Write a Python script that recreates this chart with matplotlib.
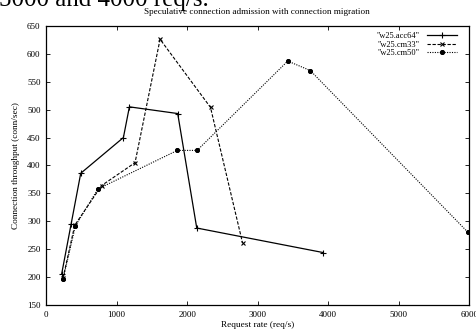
import matplotlib
matplotlib.use("Agg")
import matplotlib.pyplot as plt

plt.rcParams['font.family'] = ['Liberation Serif', 'DejaVu Serif']

# request rate (req/s) and connection throughput (conn/sec)
acc64_x = [220, 355, 490, 1095, 1180, 1865, 2135, 3930]
acc64_y = [206, 296, 386, 450, 505, 493, 288, 244]

cm33_x = [240, 405, 785, 1260, 1615, 2330, 2785]
cm33_y = [199, 293, 364, 405, 626, 504, 261]

cm50_x = [240, 415, 735, 1860, 2140, 3425, 3745, 5975]
cm50_y = [197, 292, 358, 427, 427, 587, 570, 281]

labels = ['"w25.acc64"', '"w25.cm33"', '"w25.cm50"']
xticks = [0, 1000, 2000, 3000, 4000, 5000, 6000]
yticks = [150, 200, 250, 300, 350, 400, 450, 500, 550, 600, 650]

fig = plt.figure(figsize=(4.76, 3.36), dpi=100)
ax = fig.add_axes([0.097, 0.092, 0.889, 0.831])

ax.plot(acc64_x, acc64_y, color='black', linestyle='-', linewidth=0.9,
        marker='+', markersize=4, markeredgewidth=0.8, label=labels[0])
ax.plot(cm33_x, cm33_y, color='black', linestyle=(0, (3, 1.5)), linewidth=0.8,
        marker='x', markersize=3.5, markeredgewidth=0.8, label=labels[1])
ax.plot(cm50_x, cm50_y, color='black', linestyle=(0, (1, 1.2)), linewidth=0.8,
        marker=(8, 2, 0), markersize=3.5, markeredgewidth=0.9, label=labels[2])

ax.set_xlim(0, 6000)
ax.set_ylim(150, 650)
ax.set_xticks(xticks)
ax.set_yticks(yticks)
ax.tick_params(direction='in', top=True, right=True, labelsize=6.5, length=3, width=0.6, pad=4)
for s in ax.spines.values():
    s.set_linewidth(0.9)

ax.set_xlabel('Request rate (req/s)', fontsize=6.7, labelpad=1.5)
ax.set_ylabel('Connection throughput (conn/sec)', fontsize=6.7, labelpad=5)
fig.text(0.54, 0.963, 'Speculative connection admission with connection migration',
         fontsize=6.6, ha='center', va='center')

# clipped line of document text above the chart
fig.text(-0.003, 1.0, '5000 and 4000 req/s.', fontsize=18, ha='left', va='center')

ax.legend(loc='upper right', frameon=False, markerfirst=False, fontsize=6,
          handlelength=3.6, handletextpad=0.9, labelspacing=0.1,
          borderaxespad=0.3, alignment='right', bbox_to_anchor=(0.985, 1.0))

fig.savefig('out.png', dpi=100)
